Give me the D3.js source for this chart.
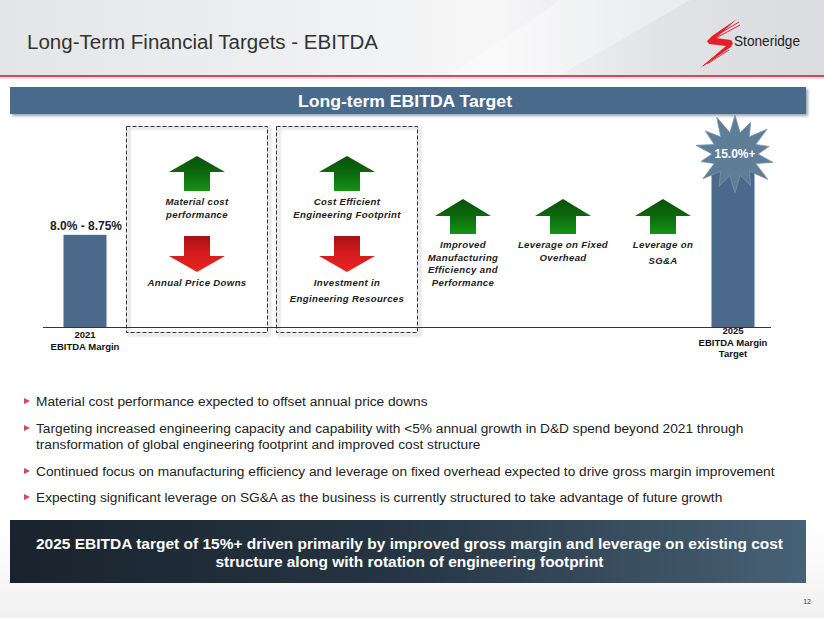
<!DOCTYPE html>
<html><head><meta charset="utf-8">
<script src="https://cdn.jsdelivr.net/npm/d3@7/dist/d3.min.js"></script>
<style>html,body{margin:0;padding:0;background:#fff;}svg{display:block;font-family:Arial,"Liberation Sans",sans-serif;}</style>
</head><body>
<script>
// ---- data ----
const pageTitle = "Long-Term Financial Targets - EBITDA";
const bannerTitle = "Long-term EBITDA Target";
const categories = ["2021", "2025"];
const categoryLabels = [["2021", "EBITDA Margin"], ["2025", "EBITDA Margin", "Target"]];
const marginValues = [8.75, 15.0];
const valueLabels = ["8.0% - 8.75%", "15.0%+"];
const boxedDrivers = [
  { up: ["Material cost", "performance"], down: ["Annual Price Downs"] },
  { up: ["Cost Efficient", "Engineering Footprint"], down: ["Investment in", "Engineering Resources"] }
];
const upDrivers = [
  ["Improved", "Manufacturing", "Efficiency and", "Performance"],
  ["Leverage on Fixed", "Overhead"],
  ["Leverage on", "SG&A"]
];
const bullets = [
  ["Material cost performance expected to offset annual price downs"],
  ["Targeting increased engineering capacity and capability with <5% annual growth in D&D spend beyond 2021 through",
   "transformation of global engineering footprint and improved cost structure"],
  ["Continued focus on manufacturing efficiency and leverage on fixed overhead expected to drive gross margin improvement"],
  ["Expecting significant leverage on SG&A as the business is currently structured to take advantage of future growth"]
];
const takeaway = ["2025 EBITDA target of 15%+ driven primarily by improved gross margin and leverage on existing cost",
                  "structure along with rotation of engineering footprint"];
const pageNumber = "12";

// ---- drawing ----
const W = 824, H = 618;
const svg = d3.select("body").append("svg").attr("width", W).attr("height", H);
const defs = svg.append("defs");

function lin(id, stops, x2, y2) {
  const g = defs.append("linearGradient").attr("id", id)
    .attr("x1", 0).attr("y1", 0).attr("x2", x2).attr("y2", y2);
  stops.forEach(s => g.append("stop").attr("offset", s[0]).attr("stop-color", s[1]));
}
lin("hdr", [[0, "#e4e5e7"], [0.35, "#eeeff0"], [0.6, "#f7f7f8"], [0.8, "#e2e3e6"], [1, "#d9dbde"]], 1, 0);
lin("bot", [[0, "#1c2731"], [0.5, "#2a3b4a"], [1, "#4e6a80"]], 1, 0);
lin("green", [[0, "#0b500b"], [0.5, "#0d6a0d"], [1, "#139313"]], 0, 1);
lin("red", [[0, "#a50f16"], [0.45, "#d41b1d"], [1, "#e8231f"]], 0, 1);
lin("pageBg", [[0, "#ffffff"], [0.85, "#ffffff"], [1, "#f1f1f2"]], 0, 1);
const blur = defs.append("filter").attr("id", "sh").attr("x", "-5%").attr("y", "-20%").attr("width", "110%").attr("height", "150%");
blur.append("feGaussianBlur").attr("stdDeviation", 1.5);

svg.append("rect").attr("width", W).attr("height", H).attr("fill", "url(#pageBg)");

// header
svg.append("rect").attr("x", 0).attr("y", 0).attr("width", W).attr("height", 75).attr("fill", "url(#hdr)");
svg.append("path").attr("d", "M560,0 L690,0 L560,75 L450,75 Z").attr("fill", "#ffffff").attr("opacity", 0.35);
svg.append("rect").attr("x", 0).attr("y", 75).attr("width", W).attr("height", 2).attr("fill", "#d04a5c");
svg.append("rect").attr("x", 0).attr("y", 77).attr("width", W).attr("height", 2).attr("fill", "#f0c4cb").attr("opacity", 0.6);

svg.append("text").attr("x", 27).attr("y", 49).attr("font-size", 20).attr("fill", "#333")
  .attr("textLength", 351).attr("lengthAdjust", "spacingAndGlyphs").text(pageTitle);

// logo
const logo = svg.append("g");
logo.append("path").attr("d", "M737,19 L712,36 L707,41 L709,44 L726,46 L700,68 L731,47 L733,43 L731,40 L716,38 Z").attr("fill", "#e3202b");
[[739, 22, 714, 37], [740, 25, 716, 38], [727, 49, 703, 66], [729, 50, 707, 64]].forEach(l =>
  logo.append("line").attr("x1", l[0]).attr("y1", l[1]).attr("x2", l[2]).attr("y2", l[3])
    .attr("stroke", "#e3202b").attr("stroke-width", 1));
logo.append("text").attr("x", 734).attr("y", 46).attr("font-size", 15).attr("fill", "#222")
  .attr("textLength", 66).attr("lengthAdjust", "spacingAndGlyphs").text("Stoneridge");

// blue banner
svg.append("rect").attr("x", 12).attr("y", 89).attr("width", 796).attr("height", 27).attr("fill", "#9aa3ad").attr("filter", "url(#sh)");
svg.append("rect").attr("x", 10).attr("y", 87).attr("width", 796).attr("height", 27).attr("fill", "#4a6a8c");
svg.append("text").attr("x", 405).attr("y", 107).attr("text-anchor", "middle").attr("font-size", 17)
  .attr("font-weight", "bold").attr("fill", "#fff").attr("textLength", 214).attr("lengthAdjust", "spacingAndGlyphs").text(bannerTitle);

// chart scales
const baseY = 327;
const y = d3.scaleLinear().domain([0, 15]).range([baseY, 169]);
const xBar = d3.scalePoint().domain(categories).range([85, 733]);
const xBox = d3.scalePoint().domain(d3.range(boxedDrivers.length)).range([197, 347]);
const xUp = d3.scalePoint().domain(d3.range(upDrivers.length)).range([463, 663]);
const barW = 43;

// dashed boxes
const boxW = 141;
boxedDrivers.forEach((d, i) => {
  const cx = xBox(i);
  svg.append("rect").attr("x", cx - 70 + 2).attr("y", 128).attr("width", boxW).attr("height", 207)
    .attr("fill", "none").attr("stroke", "#c8c8c8").attr("stroke-width", 1.5).attr("filter", "url(#sh)");
  svg.append("rect").attr("x", cx - 70.5).attr("y", 126.5).attr("width", boxW).attr("height", 206)
    .attr("fill", "#fff").attr("fill-opacity", 0).attr("stroke", "#333").attr("stroke-width", 1).attr("stroke-dasharray", "4,2");
});

// axis baseline
svg.append("line").attr("x1", 43).attr("x2", 771).attr("y1", baseY + 0.5).attr("y2", baseY + 0.5).attr("stroke", "#333").attr("stroke-width", 1);

// bars
svg.selectAll("rect.bar").data(categories).join("rect").attr("class", "bar")
  .attr("x", d => xBar(d) - barW / 2).attr("width", barW)
  .attr("y", (d, i) => y(marginValues[i])).attr("height", (d, i) => baseY - y(marginValues[i]))
  .attr("fill", "#4b6a8b");

// category labels
categoryLabels.forEach((lines, i) => {
  const t = svg.append("text").attr("text-anchor", "middle").attr("font-size", 9.5).attr("font-weight", "bold").attr("fill", "#111");
  const y0 = i === 0 ? 338 : 334;
  lines.forEach((l, k) => t.append("tspan").attr("x", xBar(categories[i])).attr("y", y0 + k * 11.5).text(l));
});

// value label for 2021
svg.append("text").attr("x", xBar(categories[0]) + 1).attr("y", 230).attr("text-anchor", "middle")
  .attr("font-size", 12).attr("font-weight", "bold").attr("fill", "#222").text(valueLabels[0]);

// starburst for 2025
const cx25 = xBar(categories[1]) + 2, cy25 = 154;
const outerR = [40, 36, 41, 35, 39, 42, 36, 40, 37, 41, 35, 40, 38, 42];
const pts = [];
outerR.forEach((r, k) => {
  const a0 = (k / outerR.length) * 2 * Math.PI - Math.PI / 2;
  const a1 = a0 + Math.PI / outerR.length;
  pts.push([cx25 + r * Math.cos(a0), cy25 + r * 0.97 * Math.sin(a0)]);
  pts.push([cx25 + 23 * Math.cos(a1), cy25 + 22 * Math.sin(a1)]);
});
svg.append("path").attr("d", "M" + pts.map(p => p.join(",")).join("L") + "Z")
  .attr("fill", "#5e7d96").attr("stroke", "#7894aa").attr("stroke-width", 0.8);
svg.append("text").attr("x", cx25).attr("y", cy25 + 4).attr("text-anchor", "middle").attr("font-size", 12)
  .attr("font-weight", "bold").attr("fill", "#fff").text(valueLabels[1]);

// arrows
function upArrow(cx, top, shoulder, bottom) {
  return `M${cx},${top} L${cx + 28},${shoulder} L${cx + 13},${shoulder} L${cx + 13},${bottom} L${cx - 13},${bottom} L${cx - 13},${shoulder} L${cx - 28},${shoulder} Z`;
}
function downArrow(cx, top, shoulder, tip) {
  return `M${cx - 13},${top} L${cx + 13},${top} L${cx + 13},${shoulder} L${cx + 28},${shoulder} L${cx},${tip} L${cx - 28},${shoulder} L${cx - 13},${shoulder} Z`;
}
function label(cx, y0, lines, step) {
  const t = svg.append("text").attr("text-anchor", "middle").attr("font-size", 9.6).attr("font-weight", "bold")
    .attr("font-style", "italic").attr("fill", "#222").attr("letter-spacing", 0.35);
  lines.forEach((l, k) => t.append("tspan").attr("x", cx).attr("y", y0 + k * step).text(l));
}

boxedDrivers.forEach((d, i) => {
  const cx = xBox(i);
  svg.append("path").attr("d", upArrow(cx, 156, 172, 191)).attr("fill", "url(#green)");
  svg.append("path").attr("d", downArrow(cx, 236, 256, 272)).attr("fill", "url(#red)");
  label(cx, 205, d.up, 13);
  label(cx, 286, d.down, 16);
});

upDrivers.forEach((lines, i) => {
  const cx = xUp(i);
  svg.append("path").attr("d", upArrow(cx, 199, 216, 234)).attr("fill", "url(#green)");
  label(cx, 248, lines, i === 2 ? 16 : 12.5);
});

// bullets
const bulletTop = [406, 433, 476, 502];
bullets.forEach((lines, i) => {
  const yb = bulletTop[i];
  svg.append("path").attr("d", `M24,${yb - 8} L30,${yb - 5} L24,${yb - 2} Z`).attr("fill", "#d04a5c");
  const t = svg.append("text").attr("font-size", 13.7).attr("fill", "#222");
  lines.forEach((l, k) => t.append("tspan").attr("x", 36).attr("y", yb + k * 16).text(l));
});

// bottom takeaway banner
svg.append("rect").attr("x", 10).attr("y", 520).attr("width", 796).attr("height", 63).attr("fill", "url(#bot)");
svg.append("rect").attr("x", 10).attr("y", 520).attr("width", 796).attr("height", 63).attr("fill", "#000").attr("opacity", 0.08);
const tw = [747, 388];
takeaway.forEach((l, k) => {
  svg.append("text").attr("x", 409.5).attr("y", 548.5 + k * 18.5).attr("text-anchor", "middle").attr("font-size", 15)
    .attr("font-weight", "bold").attr("fill", "#fff").attr("textLength", tw[k]).attr("lengthAdjust", "spacingAndGlyphs").text(l);
});

svg.append("text").attr("x", 811).attr("y", 604).attr("text-anchor", "end").attr("font-size", 7).attr("fill", "#333").text(pageNumber);
</script>
</body></html>
